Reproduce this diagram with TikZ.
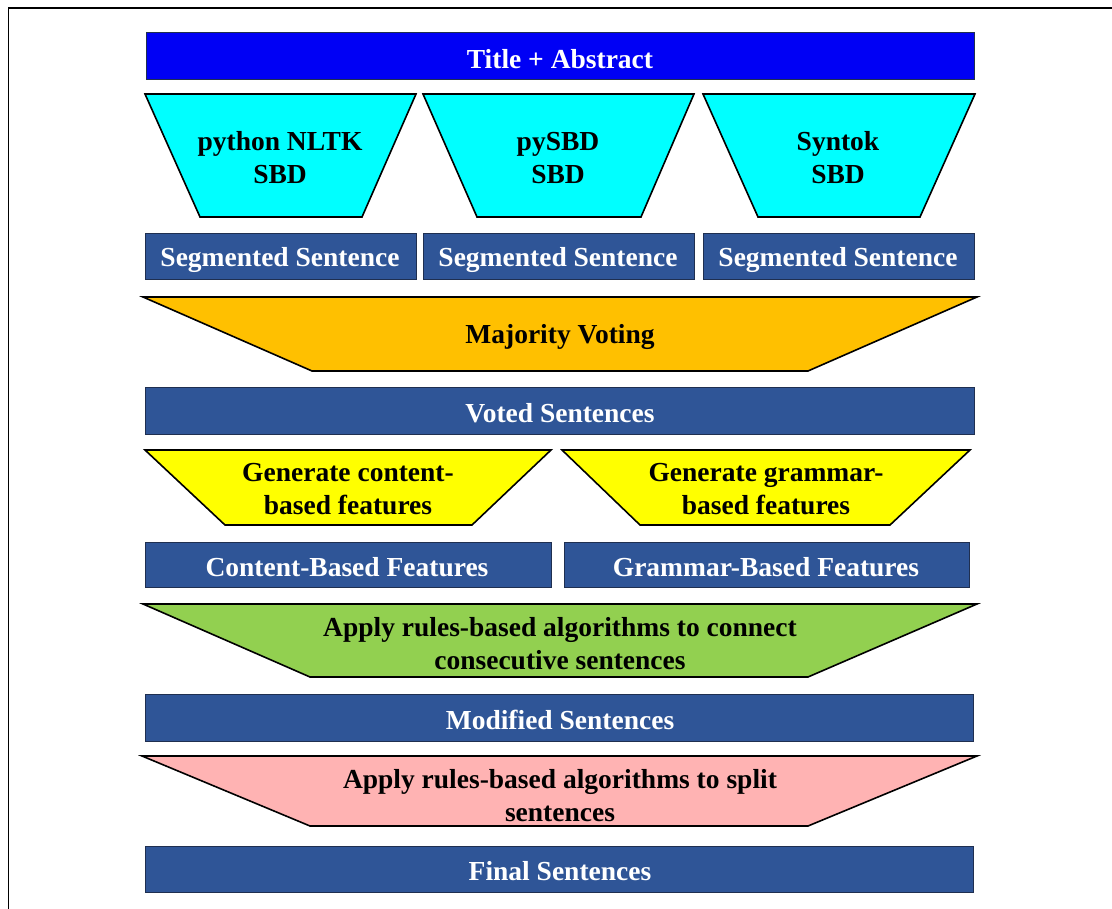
\documentclass[tikz,border=0pt]{standalone}
\usepackage{fontspec}
\setmainfont{Liberation Serif}
\definecolor{titleblue}{HTML}{0000F5}
\definecolor{boxblue}{HTML}{2F5597}
\definecolor{boxedge}{HTML}{1F2F50}
\definecolor{cyanfill}{HTML}{00FFFF}
\definecolor{orangefill}{HTML}{FFC000}
\definecolor{yellowfill}{HTML}{FFFF00}
\definecolor{greenfill}{HTML}{92D050}
\definecolor{pinkfill}{HTML}{FFB3B3}
\begin{document}
\begin{tikzpicture}[x=1pt,y=-1pt,
  bx/.style={fill=boxblue,draw=boxedge,line width=1pt},
  tz/.style={draw=black,line width=1.6pt,line join=miter},
  wt/.style={text=white,font=\fontsize{27.5}{33}\selectfont\bfseries,align=center,inner sep=0pt,yshift=-2pt},
  bt/.style={text=black,font=\fontsize{27.5}{33}\selectfont\bfseries,align=center,inner sep=0pt,yshift=-1pt}]
\useasboundingbox (0,0) rectangle (1112,909);
\draw[line width=1.5pt] (8.5,930) -- (8.5,8) -- (1130,8);
% title
\draw[fill=titleblue,draw=boxedge,line width=1pt] (146,33) rectangle (974,80);
\node[wt] (title) at (560,57) {Title + Abstract};
% SBD trapezoids
\draw[tz,fill=cyanfill] (145,94) -- (416,94) -- (362,217) -- (200,217) -- cycle;
\draw[tz,fill=cyanfill] (423,94) -- (694,94) -- (641,217) -- (477,217) -- cycle;
\draw[tz,fill=cyanfill] (703,94) -- (975,94) -- (920,217) -- (758,217) -- cycle;
\node[bt] (nltk) at (280,157) {python NLTK\\SBD};
\node[bt] (pysbd) at (558,157) {pySBD\\SBD};
\node[bt] (syntok) at (838,157) {Syntok\\SBD};
% segmented
\draw[bx] (145,234) rectangle (416,280);
\draw[bx] (423,234) rectangle (694,280);
\draw[bx] (703,234) rectangle (974,280);
\node[wt] (seg1) at (280,258) {Segmented Sentence};
\node[wt] (seg2) at (558,258) {Segmented Sentence};
\node[wt] (seg3) at (838,258) {Segmented Sentence};
% majority
\draw[tz,fill=orangefill] (143,297) -- (977,297) -- (808,371) -- (312,371) -- cycle;
\node[bt] (vote) at (560,336) {Majority Voting};
% voted
\draw[bx] (145,388) rectangle (974,435);
\node[wt] (voted) at (560,411) {Voted Sentences};
% generate features
\draw[tz,fill=yellowfill] (145,450) -- (551,450) -- (472,525) -- (225,525) -- cycle;
\draw[tz,fill=yellowfill] (562,450) -- (970,450) -- (890,525) -- (640,525) -- cycle;
\node[bt] (gencont) at (348,488) {Generate content-\\based features};
\node[bt] (gengram) at (766,488) {Generate grammar-\\based features};
% features
\draw[bx] (145,542) rectangle (551,587);
\draw[bx] (564,542) rectangle (969,587);
\node[wt] (cont) at (347,565) {Content-Based Features};
\node[wt] (gram) at (766,565) {Grammar-Based Features};
% connect
\draw[tz,fill=greenfill] (143,604) -- (977,604) -- (808,677) -- (310,677) -- cycle;
\node[bt] (connect) at (560,643) {Apply rules-based algorithms to connect\\consecutive sentences};
% modified
\draw[bx] (145,694) rectangle (973,741);
\node[wt] (modified) at (560,718) {Modified Sentences};
% split
\draw[tz,fill=pinkfill] (142,756) -- (977,756) -- (808,826) -- (310,826) -- cycle;
\node[bt] (split) at (560,795) {Apply rules-based algorithms to split\\sentences};
% final
\draw[bx] (145,846) rectangle (973,892);
\node[wt] (final) at (560,869) {Final Sentences};
\end{tikzpicture}
\end{document}
